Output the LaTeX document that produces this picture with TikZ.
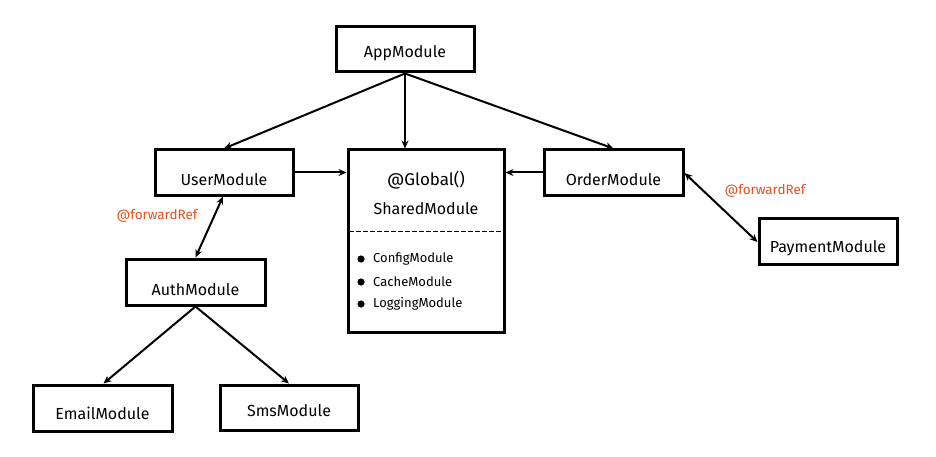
\documentclass[tikz,border=0pt]{standalone}
\usepackage{fontspec}
\setmainfont{Fira Sans}
\usetikzlibrary{arrows.meta}
\definecolor{refred}{RGB}{232,80,30}
\tikzset{
  box/.style={draw=black, line width=3pt, fill=white, rectangle, inner sep=0pt},
  lbl/.style={font=\fontsize{16}{18}\selectfont, inner sep=0pt},
  small/.style={font=\fontsize{13}{15}\selectfont, inner sep=0pt, anchor=west},
  refl/.style={font=\fontsize{13.5}{15}\selectfont, inner sep=0pt, text=refred},
  conn/.style={line width=2pt, -{Stealth[length=8pt,width=7pt]}},
  bconn/.style={line width=2pt, {Stealth[length=8pt,width=7pt]}-{Stealth[length=8pt,width=7pt]}},
}
\begin{document}
\begin{tikzpicture}[x=1pt,y=-1pt]
\useasboundingbox[fill=white] (0,0) rectangle (936,457);
% boxes
\node[box, minimum width=138pt, minimum height=45pt] (app) at (405,49.5) {};
\node[box, minimum width=138pt, minimum height=45pt] (user) at (224,172.5) {};
\node[box, minimum width=156pt, minimum height=182pt] (shared) at (426,241) {};
\node[box, minimum width=139pt, minimum height=45pt] (order) at (613.5,172.5) {};
\node[box, minimum width=138pt, minimum height=46pt] (pay) at (828,241) {};
\node[box, minimum width=139pt, minimum height=46pt] (auth) at (195.5,282) {};
\node[box, minimum width=139pt, minimum height=46pt] (email) at (102.5,408) {};
\node[box, minimum width=138pt, minimum height=45pt] (sms) at (289,407.5) {};
% texts
\node[lbl] (appt) at (405,53) {AppModule};
\node[lbl] (usert) at (224,180) {UserModule};
\node[lbl] (ordert) at (613.5,180) {OrderModule};
\node[lbl] (payt) at (828,248) {PaymentModule};
\node[lbl] (autht) at (195.5,290) {AuthModule};
\node[lbl] (emailt) at (102.5,413) {EmailModule};
\node[lbl] (smst) at (289,411) {SmsModule};
\node[lbl, font=\fontsize{17}{19}\selectfont] (glob) at (426,180) {@Global()};
\node[lbl] (sharedt) at (426,209) {SharedModule};
\coordinate (dl) at (349,231);
\coordinate (dr) at (503,231);
\draw[line width=0.9pt, dash pattern=on 5pt off 2pt] (dl) -- (dr);
\fill (361,259) circle (3.6pt);
\fill (361,282) circle (3.6pt);
\fill (361,304) circle (3.6pt);
\node[small] (c1) at (373,259) {ConfigModule};
\node[small] (c2) at (373,282) {CacheModule};
\node[small] (c3) at (373,304) {LoggingModule};
% connectors
\draw[conn] (app.south) -- (user.north);
\draw[conn] (app.south) -- (app.south |- shared.north);
\draw[conn] (app.south) -- (order.north);
\draw[conn] (user.east) -- (shared.west |- user.east);
\draw[conn] (order.west) -- (shared.east |- order.west);
\draw[bconn] ([xshift=-1pt]user.south) -- (auth.north);
\draw[bconn] ([yshift=-0.5pt]order.east) -- ([yshift=-1pt]pay.west);
\draw[conn] (auth.south) -- ([xshift=1pt]email.north);
\draw[conn] (auth.south) -- (sms.north);
% labels
\node[refl] (fr1) at (157,216) {@forwardRef};
\node[refl] (fr2) at (765,191) {@forwardRef};
\end{tikzpicture}
\end{document}
